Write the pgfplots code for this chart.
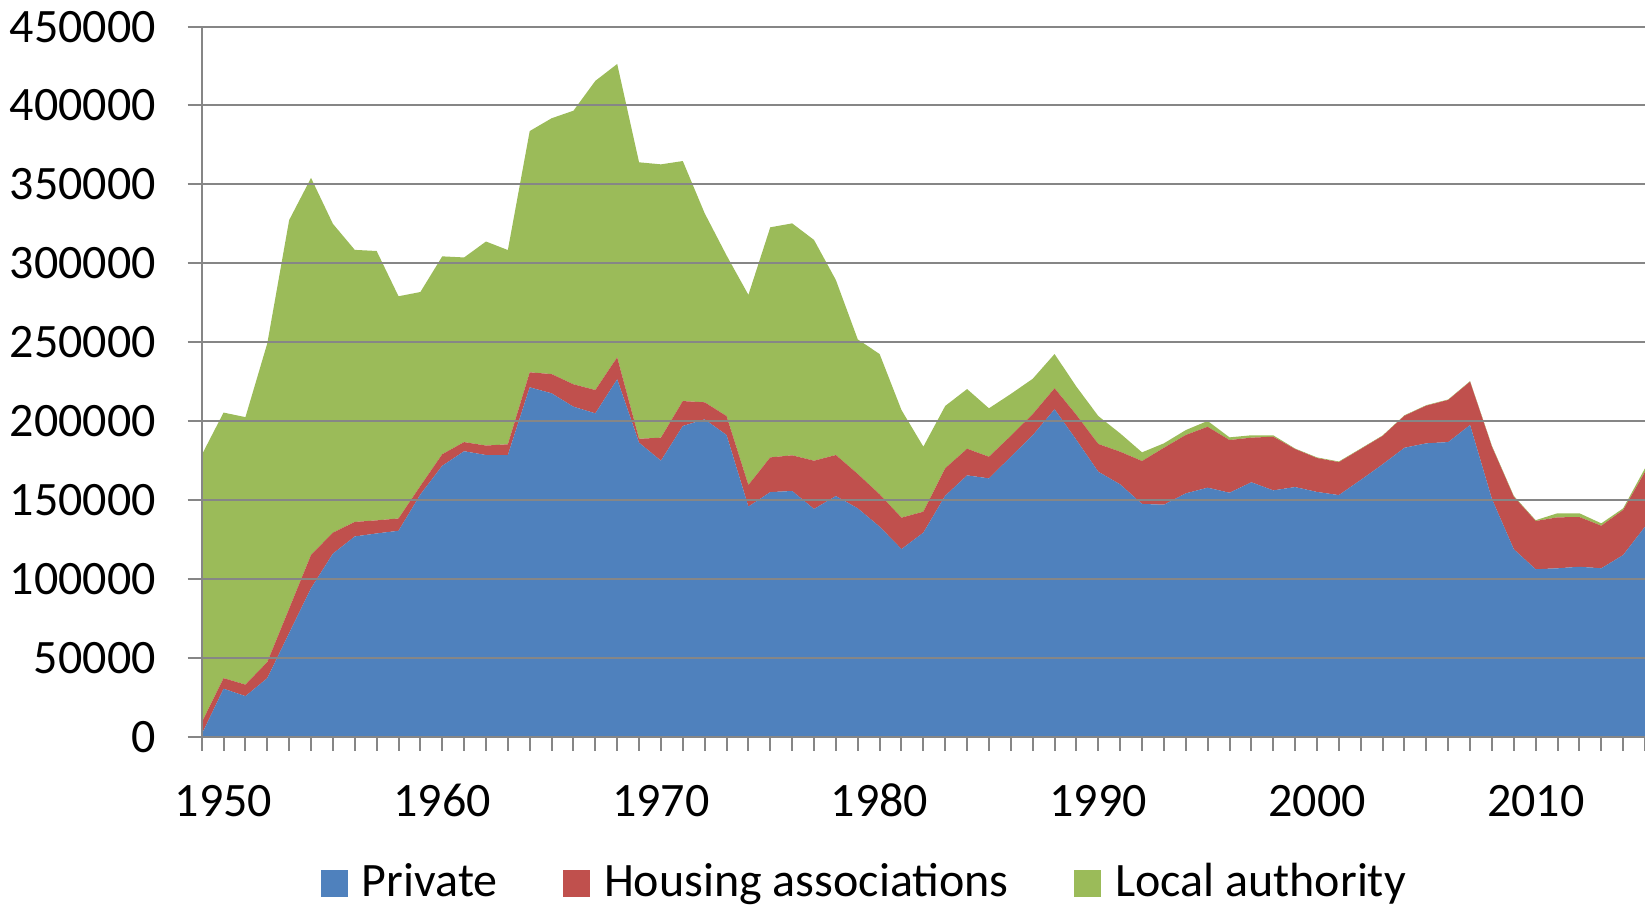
\documentclass[border=0pt]{standalone}
\usepackage{fontspec}
\setmainfont{Carlito}
\usepackage{pgfplots}
\usepackage{pgfplotstable}
\pgfplotsset{compat=1.18}
\definecolor{cP}{RGB}{79,129,189}
\definecolor{cH}{RGB}{192,80,77}
\definecolor{cL}{RGB}{155,187,89}
\definecolor{gridc}{RGB}{134,134,134}

\pgfplotstableread{
year P H L
1949 1500 7500 169500
1950 30400 6700 168300
1951 25700 7300 169500
1952 37100 10200 202000
1953 65700 15500 246200
1954 94100 21100 238900
1955 116000 13300 195700
1956 126900 9200 172400
1957 128800 8300 170700
1958 130500 7800 140800
1959 153500 5400 122900
1960 171700 7300 125400
1961 180900 5800 117000
1962 178500 6000 129300
1963 178500 6800 123100
1964 221400 9500 152900
1965 217600 12200 162100
1966 209100 14200 173400
1967 204900 14800 195900
1968 226500 13900 185900
1969 186300 2500 175200
1970 174900 14600 173200
1971 196900 15800 152100
1972 201100 10800 119800
1973 191200 12000 101800
1974 145800 13700 120500
1975 155000 22000 145800
1976 155700 22600 147000
1977 144300 30600 139900
1978 152500 26000 110900
1979 144700 21800 85300
1980 133100 20500 88900
1981 118900 19900 68200
1982 129300 13300 41200
1983 152700 17400 39500
1984 165600 16900 37800
1985 163700 13700 30700
1986 177400 13300 26500
1987 191000 13400 22400
1988 207500 13300 21700
1989 188000 15900 17900
1990 167900 17600 17700
1991 159900 20700 11600
1992 147500 27200 5500
1993 147000 36100 2800
1994 154200 37000 3100
1995 157800 38600 3700
1996 154600 33400 1700
1997 161200 28300 1500
1998 156100 34000 900
1999 158200 24100 300
2000 155100 21500 400
2001 153100 20900 400
2002 162700 19600 300
2003 172600 18000 300
2004 183100 20300 300
2005 185900 23900 300
2006 186700 26700 300
2007 197500 27500 300
2008 150600 33200 500
2009 118800 33300 500
2010 106100 30600 500
2011 106700 32300 2600
2012 107700 31500 2400
2013 106700 27000 1500
2014 115100 28600 1000
2015 133100 34800 2200
}\datatable

\begin{document}
\begin{tikzpicture}
\begin{axis}[name=ax,
  scale only axis, width=721.65pt, height=355.05pt,
  xmin=1949, xmax=2015, ymin=0, ymax=450000, enlargelimits=false,
  stack plots=y, area style,
  axis x line*=bottom, axis y line*=left,
  axis line style={gridc, line width=1pt, -},
  xtick={1950,1960,...,2010}, minor xtick={1949,1950,...,2015},
  ytick={0,50000,...,450000},
  ymajorgrids, major grid style={gridc, line width=1pt},
  tick align=outside, major tick length=7pt, minor tick length=7pt,
  tick style={gridc, line width=1pt},
  every tick label/.append style={font=\fontsize{24}{28}\selectfont, text=black},
  /pgf/number format/assume math mode=true,
  scaled y ticks=false,
  yticklabel style={/pgf/number format/fixed, /pgf/number format/1000 sep={}, xshift=-12.5pt},
  xticklabel style={/pgf/number format/1000 sep={}, yshift=-12.5pt, text height=17pt, text depth=0pt},
  legend columns=3,
  legend style={at={(0.4585,-0.21)}, anchor=center, draw=none, fill=none,
    font=\fontsize{24}{28}\selectfont,
    nodes={text height=17pt, text depth=6pt, inner sep=0pt},
    /tikz/every odd column/.append style={column sep=7pt},
    /tikz/every even column/.append style={column sep=32.8pt}},
  legend image code/.code={\fill[#1] (0pt,-5.5pt) rectangle (13.5pt,8pt);},
]
\addplot[fill=cP, draw=none] table[x=year, y=P] {\datatable} \closedcycle;
\addplot[fill=cH, draw=none] table[x=year, y=H] {\datatable} \closedcycle;
\addplot[fill=cL, draw=none] table[x=year, y=L] {\datatable} \closedcycle;
\legend{Private, Housing associations, Local authority}
\end{axis}
\pgfresetboundingbox
\path ([xshift=-100.85pt, yshift=-85.15pt]ax.south west) rectangle ([yshift=13.3pt]ax.north east);
\end{tikzpicture}
\end{document}
